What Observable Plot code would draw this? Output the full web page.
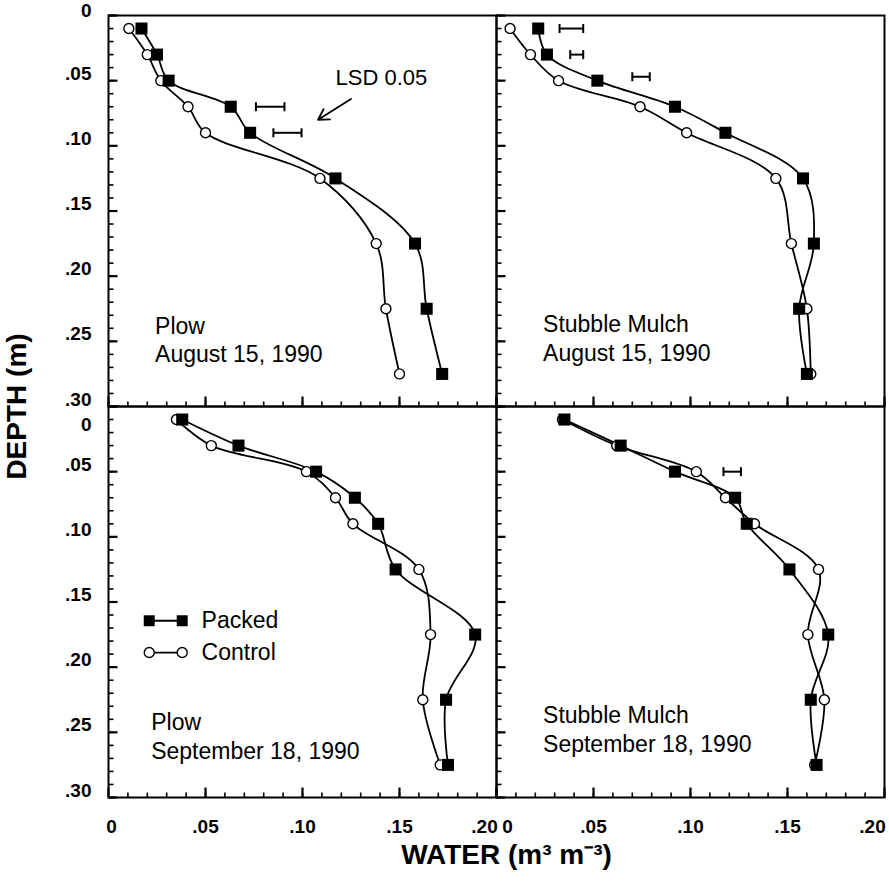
<!DOCTYPE html>
<html>
<head>
<meta charset="utf-8">
<script src="https://cdn.jsdelivr.net/npm/d3@7"></script>
<script src="https://cdn.jsdelivr.net/npm/@observablehq/plot@0.6"></script>
<style>
  html, body { margin: 0; padding: 0; background: #fff; }
  svg { display: block; }
</style>
</head>
<body>
<div id="chart"></div>
<script>
// ---------- data ----------
const depths = [0.01, 0.03, 0.05, 0.07, 0.09, 0.125, 0.175, 0.225, 0.275];
const tillages = ["Plow", "Stubble Mulch"];
const dates = ["August 15, 1990", "September 18, 1990"];
const treatments = ["Packed", "Control"];

const plowAugPacked    = [0.017, 0.025, 0.031, 0.063, 0.073, 0.117, 0.158, 0.164, 0.172];
const plowAugControl   = [0.0105, 0.020, 0.027, 0.041, 0.050, 0.109, 0.138, 0.143, 0.150];
const mulchAugPacked   = [0.0215, 0.026, 0.052, 0.092, 0.118, 0.158, 0.1636, 0.156, 0.160];
const mulchAugControl  = [0.007, 0.0175, 0.032, 0.074, 0.098, 0.144, 0.152, 0.160, 0.162];
const plowSepPacked    = [0.038, 0.067, 0.107, 0.127, 0.139, 0.148, 0.189, 0.174, 0.175];
const plowSepControl   = [0.035, 0.053, 0.102, 0.117, 0.126, 0.160, 0.166, 0.162, 0.171];
const mulchSepPacked   = [0.035, 0.064, 0.092, 0.123, 0.129, 0.151, 0.171, 0.162, 0.165];
const mulchSepControl  = [0.034, 0.062, 0.103, 0.118, 0.133, 0.166, 0.1605, 0.169, 0.164];

// LSD 0.05 bars
const lsdTillage = [tillages[0], tillages[0], tillages[1], tillages[1], tillages[1], tillages[1]];
const lsdDate    = [dates[0], dates[0], dates[0], dates[0], dates[0], dates[1]];
const lsdDepth   = [0.07, 0.09, 0.01, 0.03, 0.047, 0.05];
const lsdLow     = [0.076, 0.085, 0.0325, 0.038, 0.070, 0.117];
const lsdHigh    = [0.0907, 0.0995, 0.0447, 0.0447, 0.079, 0.126];
const lsdLabel = "LSD 0.05";
const lsdLabelPos = [0.1407, 0.048];           // water, depth
const lsdArrow = [0.125, 0.064, 0.108, 0.080];  // from (water, depth) to (water, depth)

// panel notes (water, depth of the text block centre-left)
const noteWater = [0.024, 0.024, 0.022, 0.024];
const noteDepth = [0.248, 0.247, 0.252, 0.247];

// legend (in Plow / September panel)
const legendDepth = [0.1644, 0.1888];
const legendWater = [0.021, 0.038];
const legendTextWater = 0.048;

// ticks
const xTicks = [0, 0.05, 0.10, 0.15, 0.20];
const yTicks = [0, 0.05, 0.10, 0.15, 0.20, 0.25, 0.30];
const xMinor = [0, 0.01, 0.02, 0.03, 0.04, 0.05, 0.06, 0.07, 0.08, 0.09, 0.10, 0.11, 0.12, 0.13, 0.14, 0.15, 0.16, 0.17, 0.18, 0.19, 0.20];
const yMinor = [0, 0.01, 0.02, 0.03, 0.04, 0.05, 0.06, 0.07, 0.08, 0.09, 0.10, 0.11, 0.12, 0.13, 0.14, 0.15, 0.16, 0.17, 0.18, 0.19, 0.20, 0.21, 0.22, 0.23, 0.24, 0.25, 0.26, 0.27, 0.28, 0.29, 0.30];

const yTitle = "DEPTH (m)";
const xTitle = "WATER (m³ m⁻³)";

// ---------- tables ----------
const series = [
  [tillages[0], dates[0], treatments[0], plowAugPacked],
  [tillages[0], dates[0], treatments[1], plowAugControl],
  [tillages[1], dates[0], treatments[0], mulchAugPacked],
  [tillages[1], dates[0], treatments[1], mulchAugControl],
  [tillages[0], dates[1], treatments[0], plowSepPacked],
  [tillages[0], dates[1], treatments[1], plowSepControl],
  [tillages[1], dates[1], treatments[0], mulchSepPacked],
  [tillages[1], dates[1], treatments[1], mulchSepControl]
];
const rows = series.flatMap(([tillage, date, treatment, values]) =>
  values.map((water, i) => ({tillage, date, treatment, depth: depths[i], water})));
const packedRows = rows.filter(d => d.treatment === "Packed");
const controlRows = rows.filter(d => d.treatment === "Control");

const lsd = lsdDepth.map((depth, i) => ({tillage: lsdTillage[i], date: lsdDate[i], depth, lo: lsdLow[i], hi: lsdHigh[i]}));
const lsdEnds = lsd.flatMap(d => [{...d, water: d.lo}, {...d, water: d.hi}]);

const panels = [];
dates.forEach(date => tillages.forEach(tillage => panels.push({tillage, date})));
const notes = panels.map((p, i) => ({...p, water: noteWater[i], depth: noteDepth[i], text: p.tillage + "\n" + p.date}));

const legendRows = treatments.map((t, i) => ({tillage: tillages[0], date: dates[1], treatment: t, depth: legendDepth[i]}));
const legendPts = legendRows.flatMap(d => legendWater.map(w => ({...d, water: w})));

const fmt = v => v === 0 ? "0" : d3.format(".2f")(v).slice(1);
const yLabels = dates.flatMap(date => yTicks.map(v => ({tillage: tillages[0], date, v})));
const xLabels = tillages.flatMap(tillage => xTicks.map(v => ({tillage, date: dates[1], v})));
function xShift(d) { if (d.v === 0) return d.tillage === tillages[0] ? 3 : 11; if (d.v === 0.2) return -12; return 0; }
function yShift(d) { if (d.v === 0) return d.date === dates[0] ? -5 : 18; return -7; }

const FONT = "Liberation Sans, Arial, Helvetica, sans-serif";
const NARROW = "Liberation Sans Narrow, Arial Narrow, Liberation Sans, sans-serif";
const F = {fx: "tillage", fy: "date"};

// layout
const W = 889, H = 883, ML = 108, MR = 5, MT = 14, MB = 86;
const X_DOMAIN = [0, 0.2], Y_DOMAIN = [0, 0.3];
const facetW = (W - ML - MR) / 2, facetH = (H - MT - MB) / 2;
const pxPerWater = facetW / (X_DOMAIN[1] - X_DOMAIN[0]);
const pxPerDepth = facetH / (Y_DOMAIN[1] - Y_DOMAIN[0]);

// inward tick segments for every panel (length in px converted via the scale ratio)
const xTickRows = (vals, len) => panels.flatMap(p => vals.map(v => ({tillage: p.tillage, date: p.date, v, ya: Y_DOMAIN[1], yb: Y_DOMAIN[1] - len / pxPerDepth})));
const yTickRows = (vals, len) => panels.flatMap(p => vals.map(v => ({tillage: p.tillage, date: p.date, v, xa: X_DOMAIN[0], xb: X_DOMAIN[0] + len / pxPerWater})));

const capSymbol = { draw(ctx) { ctx.moveTo(0, -4.5); ctx.lineTo(0, 4.5); } };

const xLabelMarks = [...new Set(xLabels.map(xShift))].map(s =>
  Plot.text(xLabels.filter(d => xShift(d) === s), {...F, x: "v", text: d => fmt(d.v), frameAnchor: "bottom", dy: 29, dx: s, fontSize: 19, fontWeight: "bold", lineAnchor: "middle"}));
const yLabelMarks = [...new Set(yLabels.map(yShift))].map(s =>
  Plot.text(yLabels.filter(d => yShift(d) === s), {...F, y: "v", text: d => fmt(d.v), frameAnchor: "left", dx: -17, dy: s, textAnchor: "end", fontSize: 19, fontWeight: "bold"}));

const chart = Plot.plot({
  width: W,
  height: H,
  marginLeft: ML,
  marginRight: MR,
  marginTop: MT,
  marginBottom: MB,
  style: {fontFamily: FONT, background: "white", color: "black", overflow: "visible"},
  x: {domain: X_DOMAIN, axis: null},
  y: {domain: Y_DOMAIN, reverse: true, axis: null},
  fx: {domain: tillages, padding: 0, axis: null},
  fy: {domain: dates, padding: 0, axis: null},
  marks: [
    Plot.frame({stroke: "black", strokeWidth: 2}),
    // inward ticks on the left and bottom of every panel
    Plot.link(xTickRows(xMinor, 5), {...F, x1: "v", x2: "v", y1: "ya", y2: "yb", stroke: "#000", strokeWidth: 1.6}),
    Plot.link(xTickRows(xTicks, 10), {...F, x1: "v", x2: "v", y1: "ya", y2: "yb", stroke: "#000", strokeWidth: 2.2}),
    Plot.link(yTickRows(yMinor, 5), {...F, y1: "v", y2: "v", x1: "xa", x2: "xb", stroke: "#000", strokeWidth: 1.6}),
    Plot.link(yTickRows(yTicks, 9), {...F, y1: "v", y2: "v", x1: "xa", x2: "xb", stroke: "#000", strokeWidth: 2.2}),
    // curves
    Plot.line(rows, {...F, x: "water", y: "depth", z: "treatment", curve: "catmull-rom", stroke: "black", strokeWidth: 1.8}),
    Plot.dot(controlRows, {...F, x: "water", y: "depth", symbol: "circle", r: 5, fill: "white", stroke: "black", strokeWidth: 1.4}),
    Plot.dot(packedRows, {...F, x: "water", y: "depth", symbol: "square", r: 6.8, fill: "black", stroke: "none"}),
    // LSD bars
    Plot.link(lsd, {...F, x1: "lo", x2: "hi", y1: "depth", y2: "depth", stroke: "black", strokeWidth: 2}),
    Plot.dot(lsdEnds, {...F, x: "water", y: "depth", symbol: capSymbol, stroke: "black", fill: "none", strokeWidth: 2}),
    Plot.text([{tillage: tillages[0], date: dates[0]}], {...F, x: () => lsdLabelPos[0], y: () => lsdLabelPos[1], text: () => lsdLabel, fontSize: 22, textAnchor: "middle"}),
    Plot.arrow([{tillage: tillages[0], date: dates[0]}], {...F, x1: () => lsdArrow[0], y1: () => lsdArrow[1], x2: () => lsdArrow[2], y2: () => lsdArrow[3], stroke: "black", strokeWidth: 1.8, headLength: 10}),
    // panel notes
    Plot.text(notes, {...F, x: "water", y: "depth", text: "text", textAnchor: "start", lineAnchor: "middle", fontSize: 23, lineHeight: 1.25}),
    // legend
    Plot.line(legendPts, {...F, x: "water", y: "depth", z: "treatment", stroke: "black", strokeWidth: 1.8}),
    Plot.dot(legendPts.filter(d => d.treatment === "Control"), {...F, x: "water", y: "depth", symbol: "circle", r: 5, fill: "white", stroke: "black", strokeWidth: 1.4}),
    Plot.dot(legendPts.filter(d => d.treatment === "Packed"), {...F, x: "water", y: "depth", symbol: "square", r: 6.2, fill: "black"}),
    Plot.text(legendRows, {...F, x: () => legendTextWater, y: "depth", text: "treatment", textAnchor: "start", fontSize: 23}),
    // tick labels
    ...yLabelMarks,
    ...xLabelMarks,
    // axis titles
    Plot.text([{tillage: tillages[0], date: dates[0]}], {...F, text: () => yTitle, frameAnchor: "bottom-left", dx: -83, rotate: -90, fontSize: 28, fontWeight: "bold", fontFamily: NARROW, textAnchor: "middle"}),
    Plot.text([{tillage: tillages[0], date: dates[1]}], {...F, text: () => xTitle, frameAnchor: "bottom-right", dx: 10, dy: 66, fontSize: 28, fontWeight: "bold", fontFamily: NARROW, textAnchor: "middle"})
  ]
});
document.getElementById("chart").appendChild(chart);
</script>
</body>
</html>
